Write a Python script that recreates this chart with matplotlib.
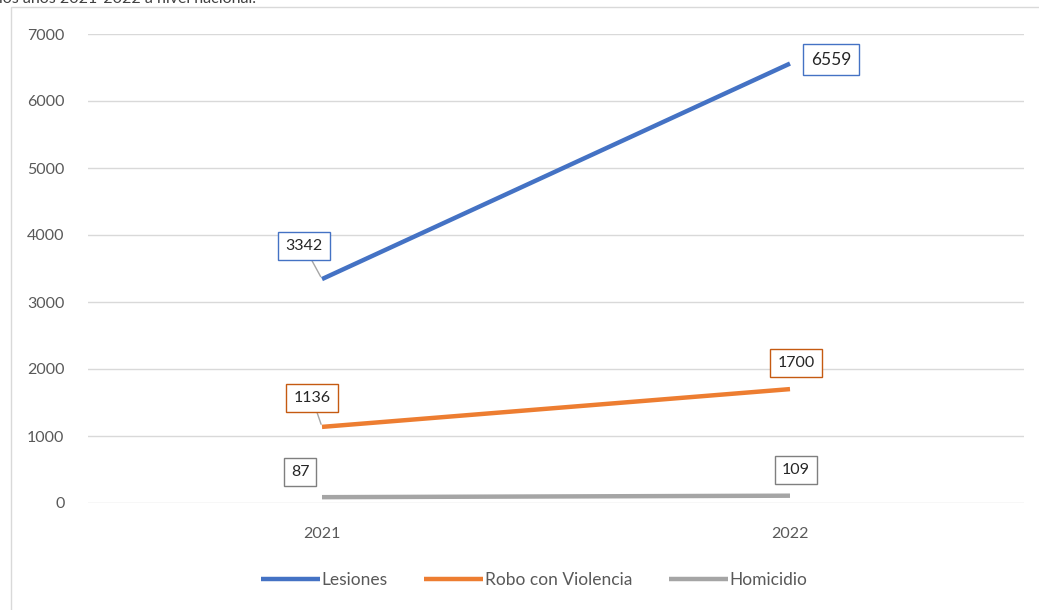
import matplotlib
matplotlib.use('Agg')
from matplotlib import pyplot as plt
from matplotlib.patches import Rectangle

plt.rcParams['font.family'] = ['Lato', 'DejaVu Sans']

years = ['2021', '2022']
series_names = ['Lesiones', 'Robo con Violencia', 'Homicidio']
lesiones = [3342, 6559]
robo = [1136, 1700]
homicidio = [87, 109]
y_ticks = [0, 1000, 2000, 3000, 4000, 5000, 6000, 7000]

colors = ['#4472c4', '#ed7d31', '#a5a5a5']
label_edge = ['#4472c4', '#c55a11', '#7f7f7f']
# label offsets in pixels (dx, dy) for each point
offsets = [[(-18, 33), (41, 4)],
           [(-10, 29), (6, 26)],
           [(-22, 25), (6, 26)]]
label_sizes = [[11.5, 12.5], [11.5, 11.5], [11.5, 11.5]]

W, H = 1039, 610
fig = plt.figure(figsize=(W / 100, H / 100), dpi=100)

# chart frame, cut at the right and bottom like the screenshot
fig.patches.append(Rectangle((11 / W, -0.1), 1.2, 1 - 7 / H + 0.1, transform=fig.transFigure,
                             fill=False, edgecolor='#d9d9d9', linewidth=1))

# title cut off at the top
fig.text(-1 / W, 1 - 3 / H, 'los años 2021-2022 a nivel nacional.', fontsize=11.5,
         color='#404040', va='baseline', ha='left')

ax = fig.add_axes([88 / W, (H - 503) / H, (1024 - 88) / W, (503 - 34) / H])
x = list(range(len(years)))

all_series = [lesiones, robo, homicidio]
for i, vals in enumerate(all_series):
    ax.plot(x, vals, color=colors[i], linewidth=3.2, solid_capstyle='butt', label=series_names[i], zorder=3)
    for j, v in enumerate(vals):
        dx, dy = offsets[i][j]
        arrow = None
        if dy > 28:
            arrow = dict(arrowstyle='-', color='#a6a6a6', lw=1, shrinkA=0, shrinkB=2)
        ax.annotate(str(v), xy=(x[j], v), xytext=(dx, dy), textcoords='offset pixels',
                    ha='center', va='center', fontsize=label_sizes[i][j], color='#262626',
                    bbox=dict(boxstyle='square,pad=0.45', fc='white', ec=label_edge[i], lw=1),
                    arrowprops=arrow, zorder=5)

ax.set_xlim(-0.5, 1.5)
ax.set_ylim(0, 7000)
ax.set_xticks(x)
ax.set_xticklabels(years)
ax.set_yticks(y_ticks)
ax.tick_params(axis='both', length=0, labelsize=11.5, colors='#595959')
ax.tick_params(axis='x', pad=17)
ax.tick_params(axis='y', pad=17)
ax.grid(axis='y', color='#d9d9d9', linewidth=1)
ax.set_axisbelow(True)
for s in ax.spines.values():
    s.set_visible(False)

fig.legend(loc='center', bbox_to_anchor=(534 / W, 1 - 580 / H), ncol=3, frameon=False,
           fontsize=12.5, handlelength=3.4, handletextpad=0.1, columnspacing=2.1,
           labelcolor='#595959')

fig.savefig('out.png', dpi=100)
